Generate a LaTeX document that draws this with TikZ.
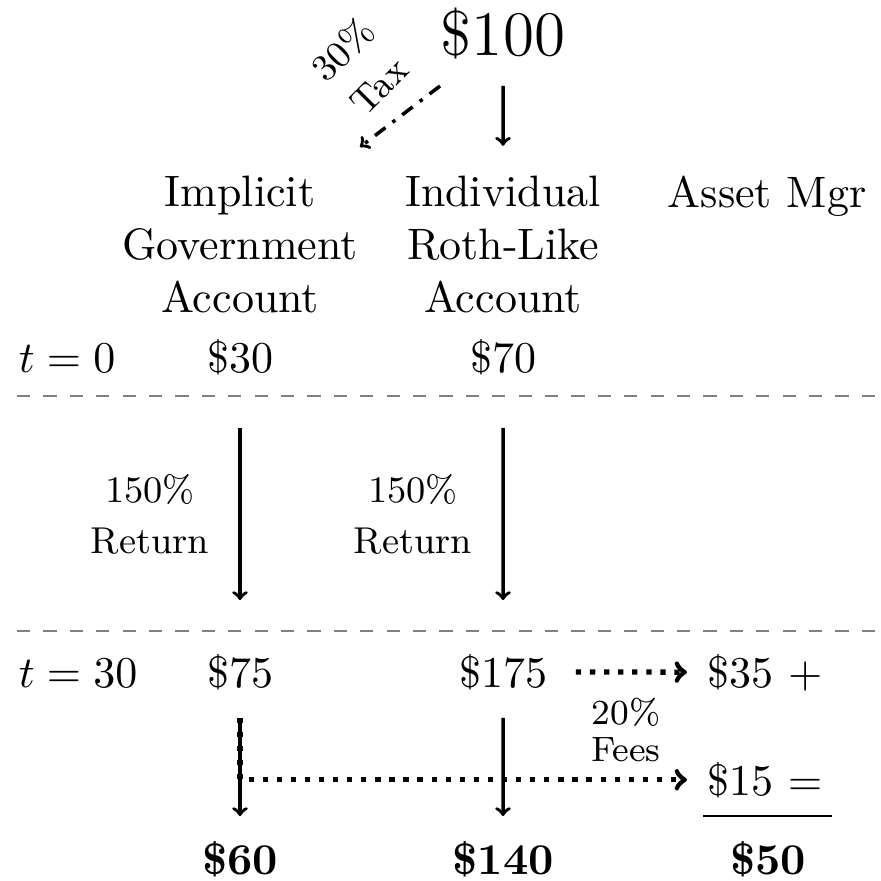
\documentclass[tikz,border=0pt]{standalone}
\usetikzlibrary{calc}
\begin{document}
\begin{tikzpicture}[x=0.5pt,y=-0.5pt,
  every node/.style={inner sep=0pt, scale=2.2, font=\normalsize},
  big/.style={font=\Large},
  lbl/.style={font=\fontsize{8.5}{11.6}\selectfont, align=center},
  fee/.style={font=\fontsize{8}{8.4}\selectfont, align=center},
  hdr/.style={align=center},
  arr/.style={->, line width=1.76pt},
  dotarr/.style={->, line width=2.64pt, dash pattern=on 2.64pt off 4.4pt},
  taxarr/.style={->, line width=1.76pt, dash pattern=on 6.6pt off 4.4pt on 1.76pt off 4.4pt},
  sep/.style={gray, line width=0.88pt, dash pattern=on 6.6pt off 6.6pt}]
\useasboundingbox (0,0) rectangle (881,880);

\node[big, anchor=base] (n100) at (503,55) {\$100};
\node[hdr] (h1) at (240,244.5) {Implicit\\Government\\Account};
\node[hdr] (h2) at (503,244.5) {Individual\\Roth-Like\\Account};
\node[anchor=base] (h3) at (767,207) {Asset Mgr};
\node[anchor=base west] (t0) at (18,372) {$t=0$};
\node[anchor=base] (a30) at (240,372) {\$30};
\node[anchor=base] (a70) at (503,372) {\$70};
\node[anchor=base west] (t30) at (18,687) {$t=30$};
\node[anchor=base] (a75) at (240,687) {\$75};
\node[anchor=base] (a175) at (503,687) {\$175};
\node[anchor=base west] (a35) at (707,687) {\$35 +};
\node[anchor=base west] (a15) at (707,795) {\$15 =};
\node[anchor=base] (b60) at (240,874) {\textbf{\$60}};
\node[anchor=base] (b140) at (503,874) {\textbf{\$140}};
\node[anchor=base] (b50) at (768,874) {\textbf{\$50}};
\node[lbl] (r1) at (150,514) {150\%\\Return};
\node[lbl] (r2) at (413,514) {150\%\\Return};
\node[lbl, rotate=45] (tax) at (360,67) {30\%\\Tax};
\node[fee] (fee) at (626,730) {20\%\\Fees};

\coordinate (taxS) at (440,86);
\coordinate (taxE) at (360,147);

\draw[arr, shorten <=13.25pt, shorten >=14.75pt] (n100) -- (h2);
\draw[taxarr] (taxS) -- (taxE);
\draw[arr, shorten <=26.25pt, shorten >=26.5pt] (a30) -- (a75);
\draw[arr, shorten <=26.25pt, shorten >=26.5pt] (a70) -- (a175);
\draw[arr, shorten <=13.75pt, shorten >=12pt] (a75) -- (b60);
\draw[arr, shorten <=13.75pt, shorten >=12pt] (a175) -- (b140);
\draw[dotarr, shorten <=14pt, shorten >=10pt] (a175) -- (a35);
\draw[dotarr, shorten <=13.75pt, shorten >=10pt] (a75) |- (a15);

\draw[sep] (17,396) -- (881,396);
\draw[sep] (17,631) -- (881,631);
\draw[line width=0.9pt] (703,816) -- (832,816);
\end{tikzpicture}
\end{document}
